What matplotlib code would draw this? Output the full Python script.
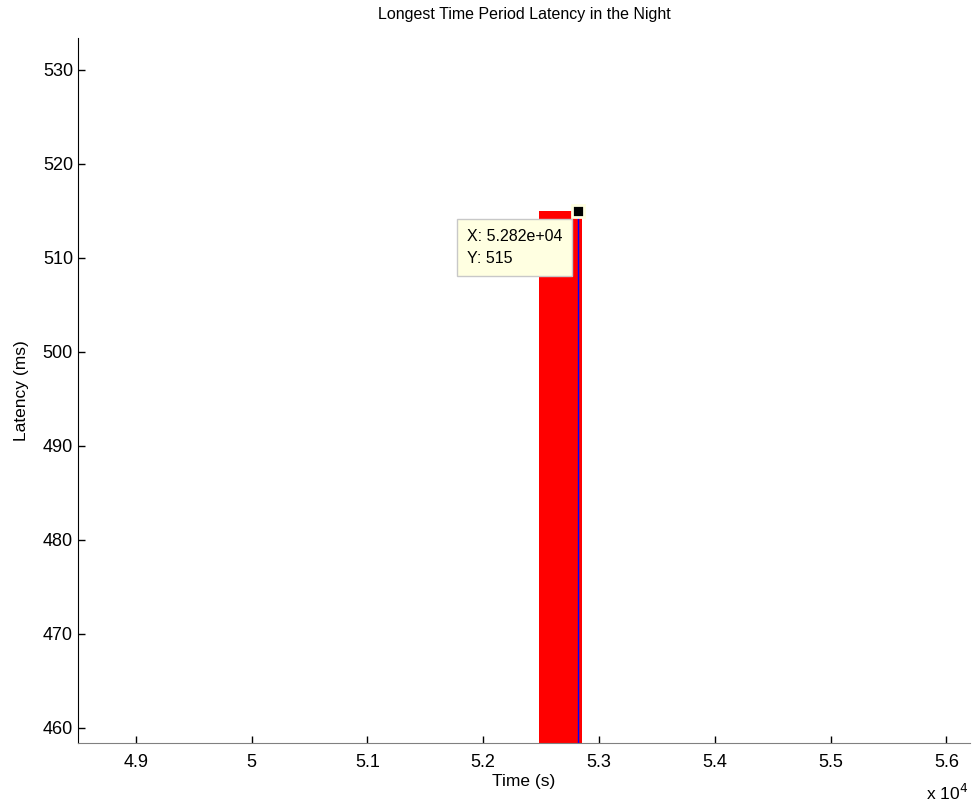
import numpy as np
import matplotlib.pyplot as plt

# latency samples around the longest period (time in s, latency in ms)
t = [52480, 52820, 52850]
lat = [515, 515, 515]
tip_x = 52820
tip_y = 515
xticks = [49000, 50000, 51000, 52000, 53000, 54000, 55000, 56000]
yticks = [460, 470, 480, 490, 500, 510, 520, 530]

plt.rcParams['font.family'] = ['Liberation Sans', 'DejaVu Sans']
fig = plt.figure(figsize=(9.74, 8.09), dpi=100)
ax = fig.add_axes([0.080, 0.0816, 0.916, 0.8714])

ax.fill_between(t, 0, lat, color='red', linewidth=0, step='post')
ax.vlines(tip_x, 0, tip_y, color='blue', linewidth=1)
ax.plot(tip_x, tip_y, 's', ms=9, mfc='black', mec='#ffffe1', mew=2, zorder=5)

ax.set_xlim(48500, 56205)
ax.set_ylim(458.4, 533.4)
ax.set_xticks(xticks)
ax.set_xticklabels(['%g' % (v / 1e4) for v in xticks])
ax.set_yticks(yticks)
ax.tick_params(direction='in', length=5, labelsize=13, width=1)
ax.tick_params(axis='x', colors='black', pad=8)
for s in ['top', 'right']:
    ax.spines[s].set_visible(False)
ax.spines['bottom'].set_color('#808080')

ax.set_title('Longest Time Period Latency in the Night', fontsize=11.5, pad=14)
ax.set_xlabel('Time (s)', fontsize=12.5, labelpad=2)
ax.set_ylabel('Latency (ms)', fontsize=12.5, labelpad=10)
fig.text(0.951, 0.008, r'x 10$^4$', fontsize=12.5, ha='left', va='bottom')

ax.annotate('X: 5.282e+04\nY: 515', xy=(tip_x, tip_y), xytext=(467, 809 - 229), textcoords='figure pixels',
            fontsize=11.5, va='top', ha='left', linespacing=1.6,
            bbox=dict(boxstyle='square,pad=0.6', fc='#ffffe1', ec='#c8c8c8'))

fig.savefig('out.png', dpi=100)
